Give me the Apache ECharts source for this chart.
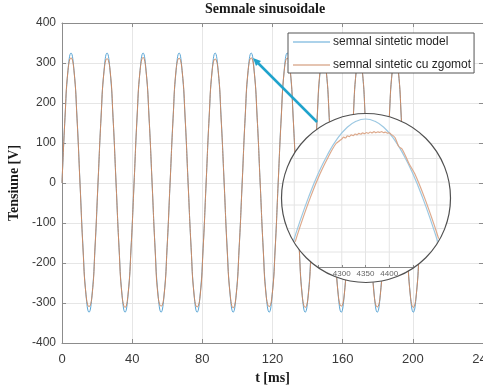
<!DOCTYPE html>
<html><head><meta charset="utf-8">
<script src="https://cdn.jsdelivr.net/npm/echarts@6/dist/echarts.min.js"></script>
<style>html,body{margin:0;padding:0;background:#fff}#c{width:483px;height:390px}</style>
</head><body><div id="c"></div>
<script>
// ---- main chart data (t in ms, voltage in V) ----
const tMs = [
0, 1.71, 3.42, 5.14, 6.85, 8.56, 10.27, 11.98, 13.69, 15.41, 17.12, 18.83,
20.54, 22.25, 23.96, 25.68, 27.39, 29.10, 30.81, 32.52, 34.23, 35.95, 37.66, 39.37,
41.08, 42.79, 44.50, 46.22, 47.93, 49.64, 51.35, 53.06, 54.77, 56.49, 58.20, 59.91,
61.62, 63.33, 65.04, 66.76, 68.47, 70.18, 71.89, 73.60, 75.31, 77.03, 78.74, 80.45,
82.16, 83.87, 85.58, 87.30, 89.01, 90.72, 92.43, 94.14, 95.85, 97.57, 99.28, 100.99,
102.70, 104.41, 106.12, 107.84, 109.55, 111.26, 112.97, 114.68, 116.39, 118.11, 119.82, 121.53,
123.24, 124.95, 126.66, 128.38, 130.09, 131.80, 133.51, 135.22, 136.93, 138.65, 140.36, 142.07,
143.78, 145.49, 147.20, 148.92, 150.63, 152.34, 154.05, 155.76, 157.47, 159.19, 160.90, 162.61,
164.32, 166.03, 167.74, 169.46, 171.17, 172.88, 174.59, 176.30, 178.01, 179.73, 181.44, 183.15,
184.86, 186.57, 188.28, 190.00, 191.71, 193.42, 195.13, 196.84, 198.55, 200.27, 201.98, 203.69,
205.40
];
const semnalModel = [
0, 163, 281, 325, 281, 163, 0, -162, -280, -323, -280, -162,
0, 163, 281, 325, 281, 163, 0, -162, -280, -323, -280, -162,
0, 163, 281, 325, 281, 163, 0, -162, -280, -323, -280, -162,
0, 163, 281, 325, 281, 163, 0, -162, -280, -323, -280, -162,
0, 163, 281, 325, 281, 163, 0, -162, -280, -323, -280, -162,
0, 163, 281, 325, 281, 163, 0, -162, -280, -323, -280, -162,
0, 163, 281, 325, 281, 163, 0, -162, -280, -323, -280, -162,
0, 163, 281, 325, 281, 163, 0, -162, -280, -323, -280, -162,
0, 163, 281, 325, 281, 163, 0, -162, -280, -323, -280, -162,
0, 163, 281, 325, 281, 163, 0, -162, -280, -323, -280, -162,
0
];
const semnalZgomot = [
0, 164, 282, 313, 280, 161, -2, -165, -279, -309, -282, -160,
2, 162, 279, 311, 283, 164, 1, -162, -281, -311, -278, -163,
-1, 165, 281, 314, 279, 162, 2, -164, -283, -308, -280, -161,
1, 161, 283, 312, 281, 165, -1, -161, -280, -310, -283, -164,
0, 163, 280, 310, 282, 160, 2, -165, -278, -312, -281, -162,
-2, 164, 282, 313, 279, 163, 0, -163, -282, -309, -279, -165,
1, 160, 279, 312, 283, 162, -2, -162, -281, -311, -282, -161,
2, 165, 283, 311, 280, 164, 1, -164, -279, -308, -280, -163,
-1, 162, 281, 313, 282, 161, 0, -161, -283, -310, -281, -164,
0, 163, 280, 312, 281, 163, -1, -165, -280, -311, -279, -162,
1
];
const seriesNames = ['semnal sintetic model', 'semnal sintetic cu zgomot'];

// ---- inset (zoom) data: sample index vs voltage ----
const insetModelSamples = [4198, 4210, 4230, 4250, 4270, 4290, 4310, 4330, 4350, 4370, 4390, 4410, 4430, 4450, 4470, 4490, 4502];
const insetModel = [202.3, 219.9, 246.6, 269.9, 289.3, 304.8, 316.0, 322.7, 325.0, 322.7, 316.0, 304.8, 289.3, 269.9, 246.6, 219.9, 202.3];
const insetZgomotSamples = [4202, 4214, 4234, 4254, 4274, 4288, 4296, 4300, 4304, 4308, 4312, 4316, 4320, 4324, 4328, 4332, 4336, 4340, 4344, 4348, 4352, 4356, 4360, 4364, 4368, 4372, 4376, 4380, 4384, 4388, 4392, 4396, 4400, 4404, 4408, 4412, 4416, 4420, 4427, 4441, 4454, 4474, 4494, 4504];
const insetZgomot = [202.3, 219.9, 246.6, 269.9, 289.3, 300.5, 303.5, 305.0, 306.8, 306.0, 308.2, 307.4, 309.1, 308.3, 310.0, 309.2, 310.6, 309.8, 311.2, 310.3, 311.5, 310.7, 312.0, 311.1, 312.3, 311.4, 312.1, 311.6, 312.4, 311.3, 311.9, 310.8, 311.2, 309.6, 308.4, 306.5, 302.0, 297.5, 295.0, 281.0, 269.9, 246.6, 219.9, 205.4];
const insetTickLabels = [4300, 4350, 4400];
const insetGridSamples = [4200, 4250, 4300, 4350, 4400, 4450, 4500];
const insetGridVolts = [192, 215.5, 239, 262, 285.5, 309];

const zip = (a, b) => a.map((v, i) => [v, b[i]]);

const SANS = 'Liberation Sans, Arial, sans-serif';
const SERIF = 'Liberation Serif, Times New Roman, serif';
const AX = '#8c8c8c';
const BLUE = '#5aa6d6';
const ORANGE = '#cc8a64';

const chart = echarts.init(document.getElementById('c'), null, {renderer: 'canvas'});
const option = {
  animation: false,
  backgroundColor: '#fff',
  title: {
    text: 'Semnale sinusoidale', left: 205, top: 2, padding: 0,
    textStyle: {fontFamily: SERIF, fontWeight: 'bold', fontSize: 14, color: '#1a1a1a'}
  },
  legend: {
    data: seriesNames, orient: 'vertical', left: 288, top: 33,
    padding: [3, 3, 2, 5], itemGap: 11, itemWidth: 37, itemHeight: 1,
    icon: 'rect', borderColor: '#555', borderWidth: 1, backgroundColor: '#fff',
    textStyle: {fontFamily: SANS, fontSize: 12, color: '#262626', padding: [0, 0, 0, -2]}
  },
  grid: [
    {left: 62, right: 0, top: 23, bottom: 47, outerBoundsMode: 'none', containLabel: false},
    // inset data area (wide, hidden axes)
    {left: 289.5, top: 113, width: 152, height: 154, outerBoundsMode: 'none', containLabel: false},
    // inset visible axis (only inside the magnifier)
    {left: 318, top: 113, width: 95, height: 154, outerBoundsMode: 'none', containLabel: false}
  ],
  xAxis: [
    {gridIndex: 0, type: 'value', min: 0, max: 240, interval: 40,
     name: 't [ms]', nameLocation: 'middle', nameGap: 27,
     nameTextStyle: {fontFamily: SERIF, fontWeight: 'bold', fontSize: 14, color: '#1a1a1a'},
     axisLine: {onZero: false, lineStyle: {color: AX}}, axisTick: {inside: true, length: 4, lineStyle: {color: AX}},
     axisLabel: {fontFamily: SANS, fontSize: 13, color: '#3a3a3a', margin: 10},
     splitLine: {show: true, lineStyle: {color: '#e6e6e6'}}},
    {gridIndex: 0, type: 'value', position: 'top', min: 0, max: 240, interval: 40,
     axisLine: {show: true, onZero: false, lineStyle: {color: AX}}, axisTick: {show: true, inside: true, length: 4, lineStyle: {color: AX}},
     axisLabel: {show: false}, splitLine: {show: false}},
    {gridIndex: 1, type: 'value', min: 4190, max: 4510, show: false},
    {gridIndex: 2, type: 'value', min: 4250, max: 4450, interval: 50, z: 20,
     axisLine: {onZero: false, lineStyle: {color: '#8a8a8a'}}, axisTick: {inside: true, length: 2, lineStyle: {color: '#8a8a8a'}},
     axisLabel: {fontFamily: SANS, fontSize: 8, color: '#666', margin: 3,
       formatter: v => insetTickLabels.indexOf(v) >= 0 ? String(v) : ''},
     splitLine: {show: false}}
  ],
  yAxis: [
    {gridIndex: 0, type: 'value', min: -400, max: 400, interval: 100,
     name: 'Tensiune [V]', nameLocation: 'middle', nameGap: 32,
     nameTextStyle: {fontFamily: SERIF, fontWeight: 'bold', fontSize: 14, color: '#1a1a1a'},
     axisLine: {show: true, onZero: false, lineStyle: {color: AX}}, axisTick: {show: true, inside: true, length: 4, lineStyle: {color: AX}},
     axisLabel: {fontFamily: SANS, fontSize: 12, color: '#3a3a3a', margin: 6},
     splitLine: {show: true, lineStyle: {color: '#e6e6e6'}}},
    {gridIndex: 0, type: 'value', position: 'right', min: -400, max: 400, interval: 100,
     axisLine: {show: true, onZero: false, lineStyle: {color: AX}}, axisTick: {show: true, inside: true, length: 4, lineStyle: {color: AX}},
     axisLabel: {show: false}, splitLine: {show: false}},
    {gridIndex: 1, type: 'value', min: 177, max: 331, show: false},
    {gridIndex: 2, type: 'value', min: 177, max: 331, show: false}
  ],
  series: [
    {name: seriesNames[0], type: 'line', xAxisIndex: 0, yAxisIndex: 0, data: zip(tMs, semnalModel),
     smooth: true, showSymbol: false, lineStyle: {color: BLUE, width: 1}, itemStyle: {color: BLUE}},
    {name: seriesNames[1], type: 'line', xAxisIndex: 0, yAxisIndex: 0, data: zip(tMs, semnalZgomot),
     smooth: true, showSymbol: false, lineStyle: {color: ORANGE, width: 1}, itemStyle: {color: ORANGE}},
    {name: seriesNames[0], type: 'line', xAxisIndex: 2, yAxisIndex: 2, data: zip(insetModelSamples, insetModel),
     smooth: true, showSymbol: false, clip: false, z: 20, lineStyle: {color: '#9cc8e2', width: 1.2}, itemStyle: {color: BLUE}},
    {name: seriesNames[1], type: 'line', xAxisIndex: 2, yAxisIndex: 2, data: zip(insetZgomotSamples, insetZgomot),
     smooth: 0.3, showSymbol: false, clip: false, z: 21, lineStyle: {color: '#d9a080', width: 1.2, opacity: 0.9}, itemStyle: {color: ORANGE}}
  ]
};
chart.setOption(option);

// magnifier circle decoration, gridlines clipped to the circle
const cx = 366, cy = 198, r = 84.5;
const axisY = chart.convertToPixel({yAxisIndex: 3}, 177);
const g = [{type: 'circle', silent: true, z: 10, shape: {cx, cy, r}, style: {fill: '#fff'}}];
insetGridSamples.forEach(s => {
  const x = chart.convertToPixel({xAxisIndex: 2}, s);
  const dx = x - cx; if (Math.abs(dx) >= r) return;
  const h = Math.sqrt(r * r - dx * dx);
  g.push({type: 'line', silent: true, z: 11, shape: {x1: x, y1: cy - h, x2: x, y2: Math.min(cy + h, axisY)},
          style: {stroke: '#e4e4e4', lineWidth: 1}});
});
insetGridVolts.forEach(v => {
  const y = chart.convertToPixel({yAxisIndex: 2}, v);
  const dy = y - cy; if (Math.abs(dy) >= r) return;
  const w = Math.sqrt(r * r - dy * dy);
  g.push({type: 'line', silent: true, z: 11, shape: {x1: cx - w, y1: y, x2: cx + w, y2: y},
          style: {stroke: '#e4e4e4', lineWidth: 1}});
});
g.push({type: 'circle', silent: true, z: 40, shape: {cx, cy, r}, style: {fill: null, stroke: '#505050', lineWidth: 1.2}});
// arrow pointing from the magnifier to the zoomed peak
g.push({type: 'line', silent: true, z: 40, shape: {x1: 317, y1: 122, x2: 257, y2: 62}, style: {stroke: '#1fa3cc', lineWidth: 2.5}});
g.push({type: 'polygon', silent: true, z: 40, shape: {points: [[253, 58], [261, 61], [256, 66]]}, style: {fill: '#1fa3cc'}});
chart.setOption({graphic: g});
</script>
</body></html>
